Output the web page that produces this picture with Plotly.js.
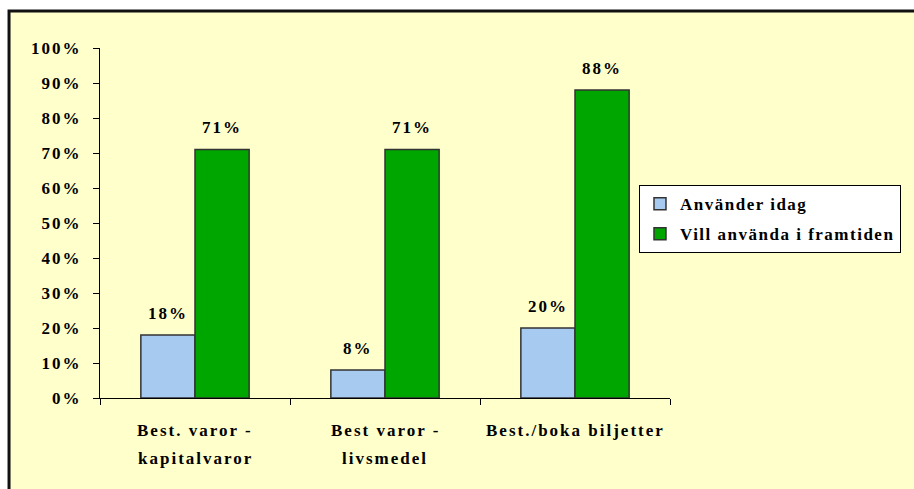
<!DOCTYPE html>
<html>
<head>
<meta charset="utf-8">
<script src="https://cdn.plot.ly/plotly-3.0.1.min.js"></script>
<style>
  html, body { margin: 0; padding: 0; background: #ffffff; }
  #chart { width: 914px; height: 489px; }
  /* applies to the chart text and to Plotly's hidden measuring node alike */
  svg text { letter-spacing: 2px; }
  svg text.legendtext { letter-spacing: 1.5px; }
</style>
</head>
<body>
<div id="chart"></div>
<script>
// Categories, split into the two lines shown under the axis
const categories = ["Best. varor - kapitalvaror", "Best varor - livsmedel", "Best./boka biljetter"];
const categoryLines = [
  ["Best. varor -", "kapitalvaror"],
  ["Best varor -", "livsmedel"],
  ["Best./boka biljetter"]
];

// Series names and shares
const seriesNames = ["Använder idag", "Vill använda i framtiden"];
const usesToday = [0.18, 0.08, 0.20];
const wantsFuture = [0.71, 0.71, 0.88];

// Y axis ticks
const yTickVals = [0, 0.1, 0.2, 0.3, 0.4, 0.5, 0.6, 0.7, 0.8, 0.9, 1.0];
const yTickText = ["0%", "10%", "20%", "30%", "40%", "50%", "60%", "70%", "80%", "90%", "100%"];

const FONT = { family: "Liberation Serif, Times New Roman, serif", size: 17, color: "#000000", weight: 700 };
const BAR_W = 0.285;
const catIdx = categories.map((_, i) => i);

const traces = [
  {
    type: "bar", name: seriesNames[0], x: catIdx, y: usesToday,
    width: BAR_W, offset: -BAR_W, legendgroup: "a",
    marker: { color: "#A6CAF0", line: { color: "#333333", width: 1.5 } },
    hoverinfo: "skip"
  },
  {
    type: "bar", name: seriesNames[1], x: catIdx, y: wantsFuture,
    width: BAR_W, offset: 0, legendgroup: "b",
    marker: { color: "#00A600", line: { color: "#333333", width: 1.5 } },
    hoverinfo: "skip"
  }
];

const annotations = [];
// Value labels above each bar
[[usesToday, -BAR_W / 2], [wantsFuture, BAR_W / 2]].forEach(([vals, dx]) => {
  vals.forEach((v, i) => {
    annotations.push({
      x: i + dx, y: v, xref: "x", yref: "y",
      text: Math.round(v * 100) + "%", showarrow: false,
      xanchor: "center", yanchor: "middle", yshift: 22, font: FONT
    });
  });
});
// Category labels below the axis
categoryLines.forEach((lines, i) => {
  lines.forEach((line, k) => {
    annotations.push({
      x: i, y: 0, xref: "x", yref: "paper",
      text: line, showarrow: false,
      xanchor: "center", yanchor: "middle", yshift: -32 - 28 * k, font: FONT
    });
  });
});

const layout = {
  width: 914, height: 489,
  margin: { l: 100, r: 244, t: 48, b: 91, pad: 0, autoexpand: false },
  paper_bgcolor: "#ffffff",
  plot_bgcolor: "rgba(0,0,0,0)",
  font: FONT,
  bargap: 0, bargroupgap: 0, barmode: "group",
  showlegend: true,
  xaxis: {
    type: "category", range: [-0.5, 2.5],
    tickvals: catIdx, ticktext: categories, showticklabels: false,
    showline: true, linecolor: "#000000", linewidth: 1,
    ticks: "outside", tickson: "boundaries", ticklen: 6, tickcolor: "#000000", tickwidth: 1,
    showgrid: false, zeroline: false, fixedrange: true
  },
  yaxis: {
    range: [0, 1], tickvals: yTickVals, ticktext: yTickText,
    showline: true, linecolor: "#000000", linewidth: 1,
    ticks: "outside", ticklen: 6, tickcolor: "#000000", tickwidth: 1,
    ticklabelstandoff: 8,
    showgrid: false, zeroline: false, fixedrange: true, tickfont: FONT
  },
  legend: {
    x: 0.9456, y: 0.511, xanchor: "left", yanchor: "middle",
    bgcolor: "#ffffff", bordercolor: "#000000", borderwidth: 1,
    font: FONT, traceorder: "grouped", tracegroupgap: 5
  },
  shapes: [
    {
      type: "rect", xref: "paper", yref: "paper", layer: "below",
      x0: -0.1596, x1: 2, y0: -1, y1: 1.1057,
      fillcolor: "#FFFFCC", line: { color: "#111111", width: 3 }
    }
  ],
  annotations: annotations
};

Plotly.newPlot("chart", traces, layout, { displayModeBar: false, staticPlot: true });
</script>
</body>
</html>
